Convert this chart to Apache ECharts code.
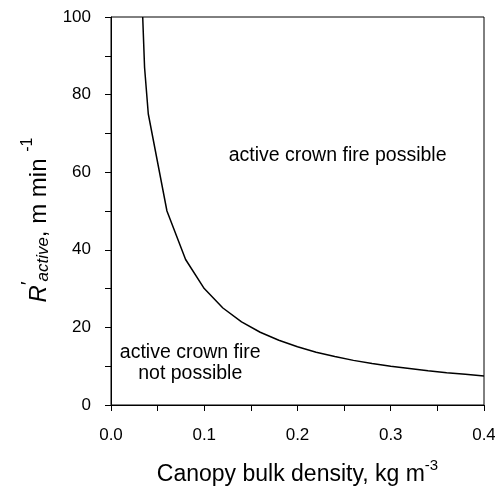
<!DOCTYPE html>
<html>
<head>
<meta charset="utf-8">
<script src="https://cdn.jsdelivr.net/npm/echarts@6/dist/echarts.min.js"></script>
<style>
  html, body { margin: 0; padding: 0; background: #fff; }
  #chart { width: 495px; height: 489px; }
</style>
</head>
<body>
<div id="chart"></div>
<script>
// canopy bulk density (kg m-3) and critical spread rate R'active (m/min)
const cbd = [0.034, 0.036, 0.04, 0.06, 0.08, 0.1, 0.12, 0.14, 0.16, 0.18, 0.2,
  0.22, 0.24, 0.26, 0.28, 0.3, 0.32, 0.34, 0.36, 0.38, 0.4]
const rActive = [100, 87, 75, 50, 37.5, 30, 25, 21.4, 18.75, 16.7, 15,
  13.6, 12.5, 11.5, 10.7, 10, 9.4, 8.8, 8.3, 7.9, 7.5]

const regionLabels = [
  { text: 'active crown fire possible', value: [0.243, 64.4] },
  { text: 'active crown fire\nnot possible', value: [0.085, 10.9] }
]

const font = 'Liberation Sans, Arial, sans-serif'
const chart = echarts.init(document.getElementById('chart'))

chart.setOption({
  animation: false,
  grid: {
    left: 111,
    right: 11,
    top: 17,
    bottom: 84,
    outerBoundsMode: 'none',
    show: true,
    borderColor: '#000',
    borderWidth: 1
  },
  xAxis: {
    type: 'value',
    min: 0,
    max: 0.4,
    interval: 0.1,
    name: '{t|Canopy bulk density, kg m}{sup|-3}',
    nameLocation: 'middle',
    nameGap: 53,
    nameTextStyle: {
      rich: {
        t: { fontSize: 23, fontFamily: font, color: '#000', verticalAlign: 'bottom', lineHeight: 28 },
        sup: { fontSize: 15, fontFamily: font, color: '#000', verticalAlign: 'top', lineHeight: 28 }
      }
    },
    axisLine: { lineStyle: { color: '#000', width: 1 } },
    axisTick: { inside: false, length: 6, lineStyle: { color: '#000' } },
    minorTick: { show: true, splitNumber: 2, length: 6, lineStyle: { color: '#000' } },
    splitLine: { show: false },
    axisLabel: {
      margin: 22,
      fontSize: 17,
      fontFamily: font,
      color: '#000',
      formatter: v => v.toFixed(1)
    }
  },
  yAxis: {
    type: 'value',
    min: 0,
    max: 100,
    interval: 20,
    name: '{r|R}{p|′}{sub|active}{t|, m min }{sup|-1}',
    nameLocation: 'middle',
    nameGap: 59,
    nameTextStyle: {
      padding: [0, 18, 0, 0],
      rich: {
        r: { fontSize: 24, fontStyle: 'italic', fontFamily: font, color: '#000', verticalAlign: 'bottom', lineHeight: 32 },
        p: { fontSize: 19, fontFamily: font, color: '#000', verticalAlign: 'top', lineHeight: 32 },
        sub: { fontSize: 17, fontStyle: 'italic', fontFamily: font, color: '#000', verticalAlign: 'bottom', lineHeight: 26 },
        t: { fontSize: 24, fontFamily: font, color: '#000', verticalAlign: 'bottom', lineHeight: 32 },
        sup: { fontSize: 16, fontFamily: font, color: '#000', verticalAlign: 'top', lineHeight: 32 }
      }
    },
    axisLine: { lineStyle: { color: '#000', width: 1 } },
    axisTick: { inside: false, length: 6, lineStyle: { color: '#000' } },
    minorTick: { show: true, splitNumber: 2, length: 6, lineStyle: { color: '#000' } },
    splitLine: { show: false },
    axisLabel: {
      margin: 20,
      fontSize: 17,
      fontFamily: font,
      color: '#000'
    }
  },
  series: [
    {
      type: 'line',
      data: cbd.map((x, i) => [x, rActive[i]]),
      showSymbol: false,
      smooth: false,
      clip: true,
      lineStyle: { color: '#000', width: 1.5 }
    },
    {
      type: 'scatter',
      symbolSize: 0,
      silent: true,
      data: regionLabels.map(d => ({ value: d.value, name: d.text })),
      label: {
        show: true,
        position: 'inside',
        formatter: p => p.name,
        fontSize: 19.5,
        fontFamily: font,
        color: '#000',
        opacity: 1,
        textBorderWidth: 0,
        align: 'center',
        lineHeight: 21
      }
    }
  ]
})
</script>
</body>
</html>
